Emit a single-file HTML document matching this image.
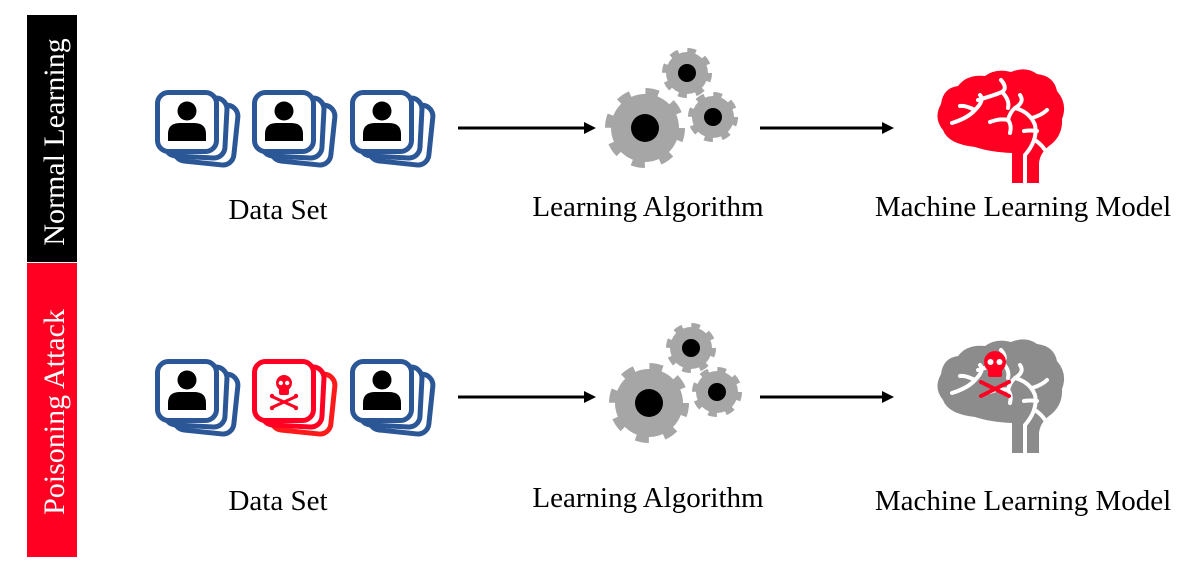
<!DOCTYPE html>
<html><head><meta charset="utf-8"><style>
html,body{margin:0;padding:0;background:#fff;}
svg{display:block;}
text{font-family:"Liberation Serif",serif;}
</style></head><body>
<svg width="1191" height="571" viewBox="0 0 1191 571" xmlns="http://www.w3.org/2000/svg">
<defs>
  <g id="cardsBack">
    <rect x="21" y="13" width="60" height="60" rx="11" fill="#fff" stroke="#2b5797" stroke-width="5" transform="rotate(6 50 43)"/>
    <rect x="11" y="7" width="60" height="60" rx="11" fill="#fff" stroke="#2b5797" stroke-width="5" transform="rotate(3 41 37)"/>
    <rect x="2.5" y="2.5" width="59" height="59" rx="11" fill="#fff" stroke="#2b5797" stroke-width="5"/>
  </g>
  <g id="stack">
    <use href="#cardsBack"/>
    <circle cx="32" cy="21" r="9.5" fill="#000"/>
    <path d="M13 51 L13 44 Q13 33 25 33 L39 33 Q51 33 51 44 L51 51 Z" fill="#000"/>
  </g>
  <g id="poison">
    <rect x="21" y="13" width="60" height="60" rx="11" fill="#fff" stroke="#ff1a1a" stroke-width="5" transform="rotate(6 50 43)"/>
    <rect x="11" y="7" width="60" height="60" rx="11" fill="#fff" stroke="#ff0022" stroke-width="5" transform="rotate(3 41 37)"/>
    <rect x="2.5" y="2.5" width="59" height="59" rx="11" fill="#fff" stroke="#ff0022" stroke-width="5"/>
    <g transform="translate(32 32)">
      <ellipse cx="0" cy="-8" rx="8" ry="8" fill="#ff0022"/>
      <rect x="-5" y="-3" width="10" height="7" rx="2" fill="#ff0022"/>
      <circle cx="-3.2" cy="-8" r="2.2" fill="#fff"/>
      <circle cx="3.2" cy="-8" r="2.2" fill="#fff"/>
      <g stroke="#ff0022" stroke-width="3" stroke-linecap="round">
        <line x1="-11" y1="6" x2="11" y2="16"/>
        <line x1="11" y1="6" x2="-11" y2="16"/>
      </g>
      <circle cx="-12" cy="5" r="2.2" fill="#ff0022"/><circle cx="12" cy="5" r="2.2" fill="#ff0022"/>
      <circle cx="-12" cy="17" r="2.2" fill="#ff0022"/><circle cx="12" cy="17" r="2.2" fill="#ff0022"/>
    </g>
  </g>
  <g id="gears">
    <circle cx="645" cy="128" r="34" fill="#a6a6a6"/>
    <circle cx="645" cy="128" r="36" fill="none" stroke="#a6a6a6" stroke-width="8" stroke-dasharray="13 15.3"/>
    <circle cx="645" cy="128" r="14" fill="#000"/>
    <circle cx="687" cy="73" r="21" fill="#a6a6a6"/>
    <circle cx="687" cy="73" r="22" fill="none" stroke="#a6a6a6" stroke-width="6" stroke-dasharray="8.5 8.8"/>
    <circle cx="687" cy="73" r="9" fill="#000"/>
    <circle cx="713" cy="117" r="21" fill="#a6a6a6"/>
    <circle cx="713" cy="117" r="22" fill="none" stroke="#a6a6a6" stroke-width="6" stroke-dasharray="8.5 8.8"/>
    <circle cx="713" cy="117" r="9" fill="#000"/>
  </g>
  <g id="brainBody">
    <path d="M1012 183 L1012 153 Q990 152 975 147 Q948 144 943 130 Q933 118 941 104 Q943 88 958 86 Q967 74 985 76 Q996 68 1011 72 Q1026 66 1037 74 Q1054 76 1057 91 Q1068 104 1062 119 Q1063 136 1049 146 Q1040 153 1039 163 L1039 183 Z"/>
  </g>
  <g id="veins" fill="none" stroke="#fff" stroke-width="4" stroke-linecap="round">
    <path d="M952 123 Q968 118 975 110 Q985 100 980 95"/>
    <path d="M975 110 Q965 105 960 106"/>
    <path d="M978 100 Q995 95 1002 92 Q1008 88 1001 80"/>
    <path d="M1002 92 Q1010 100 1008 108"/>
    <path d="M990 122 Q1000 118 1008 120 Q1010 112 1015 108 Q1025 102 1020 95"/>
    <path d="M1008 120 Q1012 125 1010 133"/>
    <path d="M1015 108 Q1030 112 1035 125 Q1038 140 1025 155 L1025 183"/>
    <path d="M1032 118 Q1042 115 1047 110"/>
    <path d="M1024 131 Q1030 130 1037 131"/>
    <path d="M1035 140 Q1042 145 1045 150"/>
  </g>
</defs>

<rect x="27" y="15" width="50" height="247" fill="#000"/>
<rect x="27" y="263" width="50" height="294" fill="#ff0022"/>
<text x="0" y="0" transform="translate(64 142) rotate(-90)" text-anchor="middle" font-size="30" fill="#fff">Normal Learning</text>
<text x="0" y="0" transform="translate(64 412) rotate(-90)" text-anchor="middle" font-size="30" fill="#fff">Poisoning Attack</text>

<use href="#stack" x="155" y="90"/>
<use href="#stack" x="252" y="90"/>
<use href="#stack" x="350" y="90"/>
<use href="#gears"/>
<g fill="#ff0022"><use href="#brainBody"/></g>
<use href="#veins"/>
<g stroke="#000" stroke-width="3"><line x1="458" y1="128" x2="586" y2="128"/><line x1="760" y1="128" x2="884" y2="128"/></g>
<polygon points="596,128 584,122 584,134" fill="#000"/>
<polygon points="894,128 882,122 882,134" fill="#000"/>
<text x="278" y="219" text-anchor="middle" font-size="29">Data Set</text>
<text x="648" y="216" text-anchor="middle" font-size="29">Learning Algorithm</text>
<text x="1023" y="216" text-anchor="middle" font-size="29">Machine Learning Model</text>

<use href="#stack" x="155" y="359"/>
<use href="#poison" x="252" y="359"/>
<use href="#stack" x="350" y="359"/>
<use href="#gears" transform="translate(4 275)"/>
<g fill="#8c8c8c" transform="translate(0 270)"><use href="#brainBody"/><use href="#veins"/></g>
<g transform="translate(995 362)">
  <ellipse cx="0" cy="0" rx="11" ry="11" fill="#ff0022"/>
  <rect x="-7" y="6" width="14" height="9" rx="2" fill="#ff0022"/>
  <circle cx="-4.5" cy="0" r="3" fill="#fff"/><circle cx="4.5" cy="0" r="3" fill="#fff"/>
  <g stroke="#ff0022" stroke-width="4" stroke-linecap="round">
    <line x1="-14" y1="20" x2="14" y2="34"/><line x1="14" y1="20" x2="-14" y2="34"/>
  </g>
</g>
<g stroke="#000" stroke-width="3"><line x1="458" y1="397" x2="586" y2="397"/><line x1="760" y1="397" x2="884" y2="397"/></g>
<polygon points="596,397 584,391 584,403" fill="#000"/>
<polygon points="894,397 882,391 882,403" fill="#000"/>
<text x="278" y="510" text-anchor="middle" font-size="29">Data Set</text>
<text x="648" y="507" text-anchor="middle" font-size="29">Learning Algorithm</text>
<text x="1023" y="510" text-anchor="middle" font-size="29">Machine Learning Model</text>
</svg>
</body></html>
